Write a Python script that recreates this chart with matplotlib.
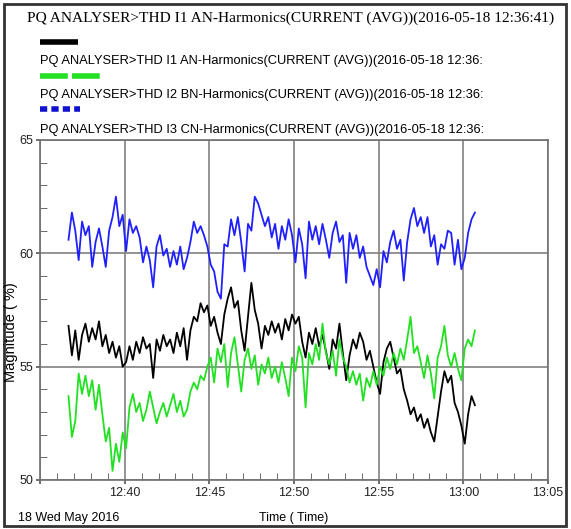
import matplotlib
matplotlib.use('Agg')
import matplotlib.pyplot as plt
import matplotlib.dates as mdates
from matplotlib.lines import Line2D
from matplotlib.patches import Rectangle
import pandas as pd

# THD readings (%), one sample every 12 s starting 12:36:41
thd_i1 = [56.8, 55.5, 56.6, 55.3, 56.4, 56.9, 56.1, 56.7, 56.2, 57.0,
          55.9, 56.4, 55.6, 56.1, 55.4, 55.9, 55.0, 55.2, 55.9, 55.3,
          56.1, 55.6, 56.3, 55.8, 56.0, 54.5, 56.2, 55.7, 56.4, 55.9,
          56.2, 55.6, 56.5, 55.9, 56.7, 55.3, 56.6, 57.2, 57.0, 57.8,
          57.4, 57.7, 56.8, 57.2, 56.5, 56.0, 57.3, 58.0, 58.5, 57.6,
          57.9, 56.6, 55.7, 57.2, 58.7, 57.5, 56.9, 55.8, 56.8, 56.4,
          57.0, 56.5, 56.9, 56.2, 57.1, 56.6, 57.3, 56.9, 57.2, 56.1,
          55.4, 56.5, 56.0, 56.7, 55.9, 56.4, 55.7, 54.9, 56.2, 55.8,
          56.9, 55.6, 54.4, 55.5, 56.2, 55.8, 56.5, 56.1, 55.3, 55.7,
          55.0, 54.3, 53.8, 55.2, 55.8, 56.1, 55.4, 54.7, 54.9, 54.0,
          53.5, 52.9, 53.2, 52.6, 52.9, 52.3, 52.7, 52.1, 51.7, 52.8,
          53.9, 54.8, 54.3, 54.6, 53.4, 53.0, 52.4, 51.6, 52.9, 53.7,
          53.3]
thd_i2 = [53.7, 51.9, 52.6, 54.7, 53.8, 54.6, 53.7, 54.4, 53.1, 54.2,
          52.9, 51.7, 52.3, 50.4, 51.6, 50.8, 52.1, 51.4, 53.2, 53.8,
          53.0, 53.4, 52.6, 53.1, 53.9, 53.2, 52.5, 53.0, 53.4, 52.8,
          53.3, 53.8, 53.0, 53.5, 52.8, 53.1, 53.9, 54.3, 54.0, 54.6,
          54.4, 55.0, 55.4, 54.3, 55.8, 55.2, 56.0, 54.1, 55.6, 56.3,
          55.1, 53.9, 55.3, 55.8, 54.9, 55.5, 54.2, 55.1, 54.7, 55.4,
          54.5, 55.0, 54.3, 55.2, 54.5, 53.7, 55.4, 54.8, 55.9, 55.4,
          53.2, 55.6, 55.1, 56.0, 55.3, 56.9, 55.6, 55.1, 55.7, 54.6,
          56.2, 55.4, 55.0, 54.3, 54.8, 54.2, 54.7, 53.5, 54.5, 54.1,
          54.8, 54.2, 55.0, 54.6, 55.4, 54.9, 55.6, 55.1, 55.8, 55.3,
          56.2, 57.2, 55.6, 55.9, 55.2, 54.5, 55.5, 54.7, 53.6, 55.4,
          55.9, 56.8, 55.5, 55.0, 55.6, 54.9, 54.4, 55.8, 56.2, 55.9,
          56.6]
thd_i3 = [60.6, 61.8, 61.0, 59.7, 61.4, 60.8, 61.2, 59.4, 60.5, 61.1,
          60.3, 59.4, 61.0, 61.6, 62.5, 61.2, 61.7, 60.1, 61.5, 60.9,
          61.2, 60.7, 59.6, 60.3, 59.7, 58.5, 60.3, 60.8, 59.9, 60.2,
          59.4, 60.1, 59.5, 60.3, 59.3, 59.8, 60.5, 61.4, 60.9, 61.2,
          60.8, 60.3, 59.5, 59.2, 58.3, 58.0, 60.4, 60.3, 61.5, 60.8,
          61.6, 60.5, 59.2, 61.3, 61.0, 62.5, 62.2, 61.7, 61.2, 61.6,
          60.7, 61.3, 60.2, 61.2, 60.6, 61.5, 60.8, 59.6, 61.1, 60.4,
          58.9, 61.4, 60.6, 61.2, 60.4, 61.3, 60.6, 59.8, 60.9, 61.4,
          60.5, 60.8, 58.7, 60.9, 60.2, 60.8, 59.8, 60.3, 59.4, 59.0,
          58.6, 59.3, 58.5, 60.1, 59.6, 60.5, 61.0, 60.2, 60.6, 58.8,
          60.5, 61.5, 62.0, 61.2, 61.6, 60.9, 61.6, 60.3, 60.8, 59.5,
          60.4, 60.2, 61.0, 60.9, 59.5, 60.6, 59.3, 59.8, 60.9, 61.5,
          61.8]
times = pd.date_range('2016-05-18 12:36:41', periods=len(thd_i1), freq='12s')

series_labels = ['PQ ANALYSER>THD I1 AN-Harmonics(CURRENT (AVG))(2016-05-18 12:36:',
                 'PQ ANALYSER>THD I2 BN-Harmonics(CURRENT (AVG))(2016-05-18 12:36:',
                 'PQ ANALYSER>THD I3 CN-Harmonics(CURRENT (AVG))(2016-05-18 12:36:']
title = 'PQ ANALYSER>THD I1 AN-Harmonics(CURRENT (AVG))(2016-05-18 12:36:41)'

W, H = 571, 529
fig = plt.figure(figsize=(W / 100, H / 100), dpi=100)
plt.rcParams['font.family'] = 'Liberation Sans'

ax = fig.add_axes([40 / W, 1 - 480 / H, 508 / W, 340 / H])
ax.plot(times, thd_i1, color='black', lw=1.3)
ax.plot(times, thd_i2, color='#22e022', lw=1.3)
ax.plot(times, thd_i3, color='#2020ff', lw=1.3)

ax.set_xlim(pd.Timestamp('2016-05-18 12:35'), pd.Timestamp('2016-05-18 13:05'))
ax.set_ylim(50, 65)
ax.set_yticks([50, 55, 60, 65])
ax.set_yticks(range(50, 66), minor=True)
ax.xaxis.set_major_locator(mdates.MinuteLocator(byminute=range(0, 60, 5)))
ax.xaxis.set_minor_locator(mdates.MinuteLocator())
ax.xaxis.set_major_formatter(
    plt.FuncFormatter(lambda v, p: '' if mdates.num2date(v).minute == 35 else mdates.num2date(v).strftime('%H:%M')))
ax.grid(True, which='major', color='#808080', lw=1.2)
ax.tick_params(which='both', colors='#555555', labelcolor='#222222', labelsize=9)
ax.tick_params(which='major', direction='out', length=3, width=1.2, pad=2)
ax.tick_params(which='minor', direction='in', length=5)
for s in ax.spines.values():
    s.set_color('#707070')
    s.set_linewidth(1.2)

fig.text(11 / W, 1 - 332 / H, 'Magnitude ( %)', rotation=90, ha='center', va='center', fontsize=10.5)
fig.text(18 / W, 1 - 518 / H, '18 Wed May 2016', ha='left', va='center', fontsize=9)
fig.text(294 / W, 1 - 518 / H, 'Time ( Time)', ha='center', va='center', fontsize=9)

fig.text(27 / W, 1 - 18 / H, title, ha='left', va='center', fontsize=11.1, family='Liberation Serif')
ys_line = [42, 76, 109]
ys_text = [61, 95, 130]
colors = ['black', '#22e022', '#1010d0']
dashes = [None, (5, 0.75), (1.3, 0.75)]
ends = [78, 103, 80]
for lab, yl, yt, c, d, e in zip(series_labels, ys_line, ys_text, colors, dashes, ends):
    ln = Line2D([40 / W, e / W], [1 - yl / H] * 2, transform=fig.transFigure, color=c, lw=4,
                solid_capstyle='butt', dash_capstyle='butt')
    if d:
        ln.set_dashes(d)
    fig.add_artist(ln)
    fig.text(40 / W, 1 - yt / H, lab, ha='left', va='center', fontsize=9.3)

fig.add_artist(Rectangle((4 / W, 3 / H), 562 / W, 522 / H, transform=fig.transFigure,
                         fill=False, edgecolor='#333333', lw=2))

fig.savefig('out.png', dpi=100)
